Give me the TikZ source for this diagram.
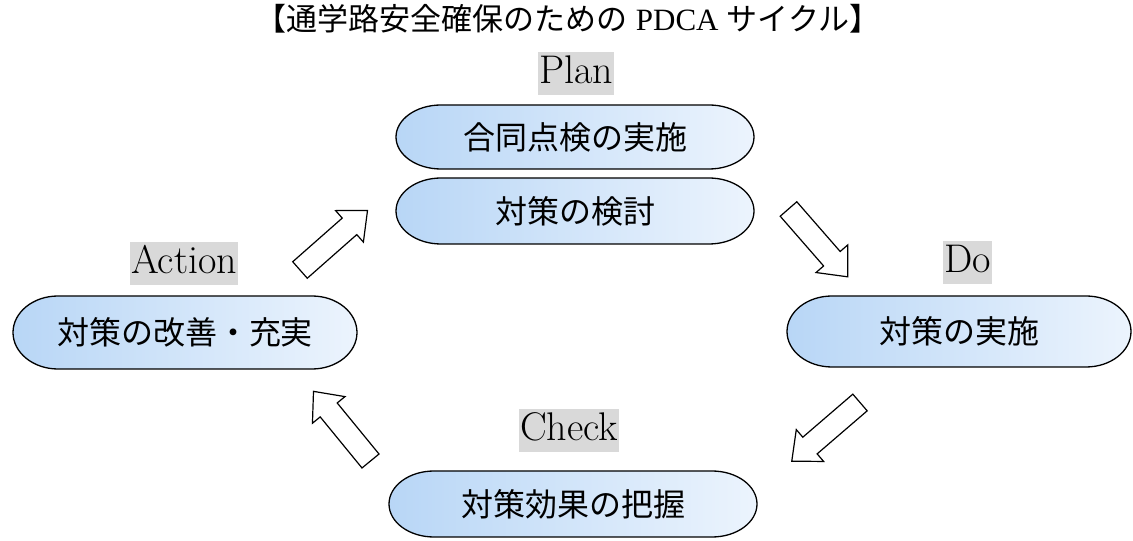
\documentclass[tikz,border=0pt]{standalone}
\usepackage{fontspec}
\newfontfamily\jpfont{Noto Sans CJK JP}
\newfontfamily\serifen{Liberation Serif}
\usetikzlibrary{calc}
\definecolor{boxL}{RGB}{184,214,246}
\definecolor{boxR}{RGB}{236,244,253}
\definecolor{labgray}{RGB}{217,217,217}
\tikzset{
  capsule/.style={inner sep=0pt, font=\jpfont\fontsize{32}{36}\selectfont,
    path picture={
      \shade[left color=boxL, right color=boxR, draw=black, line width=1.3pt]
        let \p1=(path picture bounding box.south west),
            \p2=(path picture bounding box.north east) in
        (\x1+46pt,\y2-1pt) -- (\x2-46pt,\y2-1pt)
        arc[start angle=90,end angle=-90,x radius=45pt,y radius={(\y2-\y1)/2-1pt}]
        -- (\x1+46pt,\y1+1pt)
        arc[start angle=270,end angle=90,x radius=45pt,y radius={(\y2-\y1)/2-1pt}]
        -- cycle;
    }},
  lab/.style={fill=labgray, inner xsep=1pt, inner ysep=2pt,
    font=\fontsize{40}{44}\selectfont, text height=30pt, text depth=9pt},
  barrow/.pic={
    \draw[fill=white, line width=1.2pt, miter limit=10]
      (0,-11) -- (66,-11) -- (66,-21) -- (90,0) -- (66,21) -- (66,11) -- (0,11) -- cycle;
  }
}
\begin{document}
\begin{tikzpicture}[x=1pt,y=1pt]
\useasboundingbox (0,0) rectangle (1133,541);
% title
\node (title) at (568,522) {\jpfont\fontsize{31}{34}\selectfont 【通学路安全確保のための\hspace{8pt}{\serifen PDCA}\hspace{8pt}サイクル】};
% labels
\node[lab] (plan) at (576,467.5) {Plan};
\node[lab] (do) at (967.5,278.5) {Do};
\node[lab] (act) at (184,277.5) {Action};
\node[lab] (chk) at (569,110.5) {Check};
% boxes
\node[capsule, minimum width=360pt, minimum height=66pt] (p1) at (575,404) {合同点検の実施};
\node[capsule, minimum width=360pt, minimum height=68pt] (p2) at (575,330) {対策の検討};
\node[capsule, minimum width=346pt, minimum height=73pt] (d1) at (959,209.5) {対策の実施};
\node[capsule, minimum width=346pt, minimum height=75pt] (a1) at (185,208.5) {対策の改善・充実};
\node[capsule, minimum width=370pt, minimum height=68pt] (c1) at (573,37) {対策効果の把握};
% arrows
\coordinate (t1) at (300,271);
\coordinate (t2) at (788.5,332);
\coordinate (t3) at (860,138.5);
\coordinate (t4) at (370.5,80);
\pic[rotate=41.4] at (t1) {barrow};
\pic[rotate=-48.9] at (t2) {barrow};
\pic[rotate=220.7] at (t3) {barrow};
\pic[rotate=129.3] at (t4) {barrow};
\end{tikzpicture}
\end{document}
